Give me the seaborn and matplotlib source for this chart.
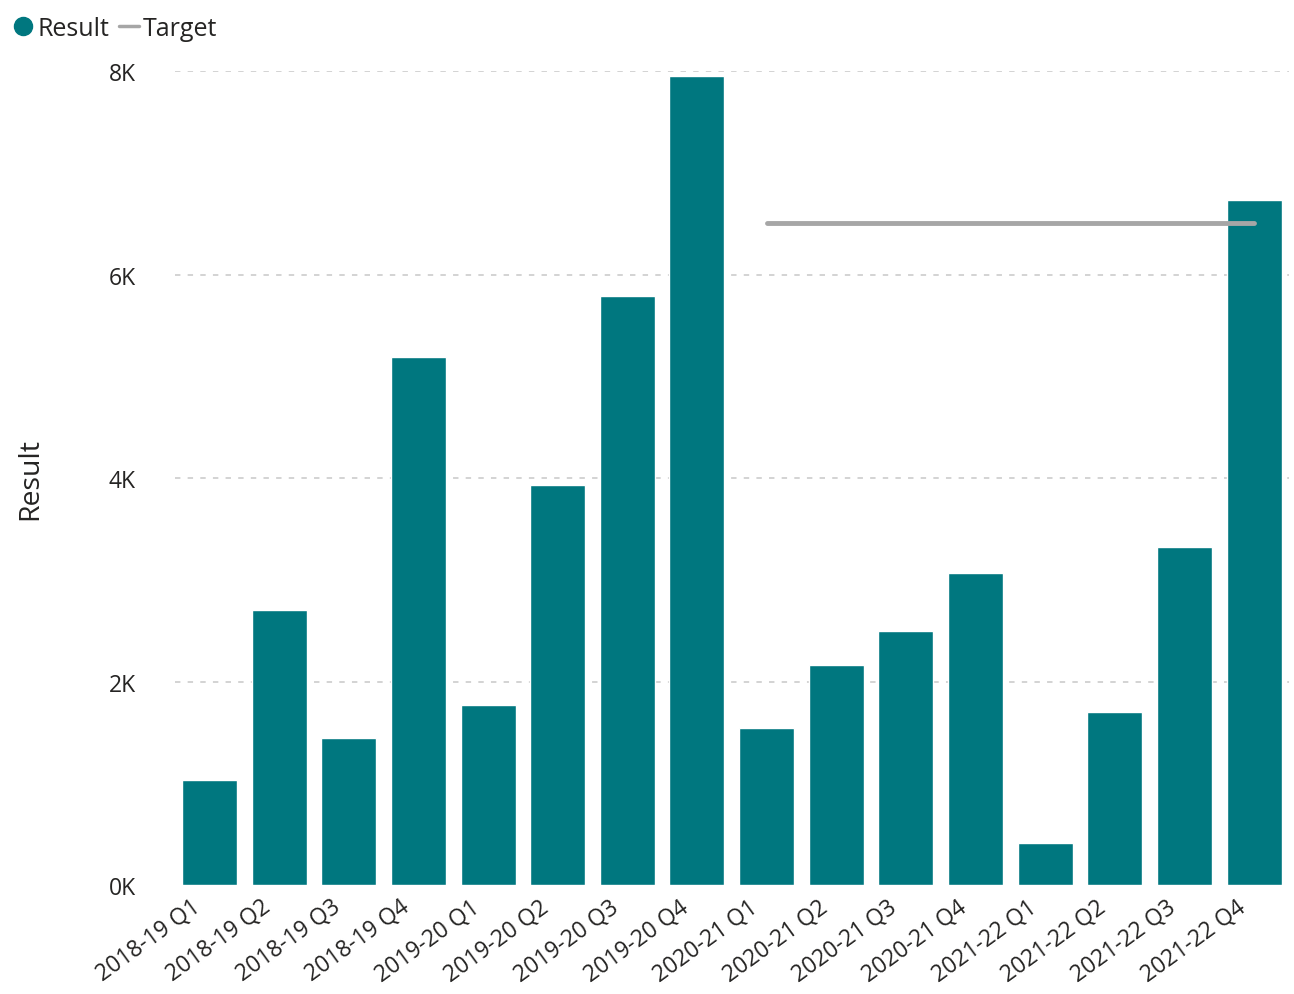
import numpy as np
import pandas as pd
import matplotlib
matplotlib.use("Agg")
import matplotlib.pyplot as plt
import matplotlib.transforms as mtransforms
import seaborn as sns
from matplotlib.lines import Line2D

categories = ["2018-19 Q1", "2018-19 Q2", "2018-19 Q3", "2018-19 Q4",
              "2019-20 Q1", "2019-20 Q2", "2019-20 Q3", "2019-20 Q4",
              "2020-21 Q1", "2020-21 Q2", "2020-21 Q3", "2020-21 Q4",
              "2021-22 Q1", "2021-22 Q2", "2021-22 Q3", "2021-22 Q4"]
result = [1030, 2700, 1445, 5190, 1770, 3930, 5790, 7950,
          1540, 2160, 2500, 3070, 410, 1700, 3320, 6730]
target = [np.nan] * 8 + [6510] * 8
yticks = [0, 2000, 4000, 6000, 8000]
ytick_labels = ["0K", "2K", "4K", "6K", "8K"]

sns.set_style("white")
plt.rcParams['font.family'] = ['Open Sans', 'DejaVu Sans']

BAR = "#00777F"
TGT = "#A6A6A6"
TXT = "#252423"

df = pd.DataFrame({"Quarter": categories, "Result": result})

fig = plt.figure(figsize=(12.94, 9.95), dpi=100)
ax = fig.add_axes([0.135, 0.1095, 0.861, 0.818])

sns.barplot(data=df, x="Quarter", y="Result", color=BAR, saturation=1,
            width=0.79, ax=ax, zorder=2)
ax.plot(np.arange(len(categories)), target, color=TGT, lw=3.5,
        solid_capstyle="round", zorder=3)

ax.set_xlim(-0.5, len(categories) - 0.5)
ax.set_ylim(0, 8000)
ax.set_yticks(yticks)
ax.set_yticklabels(ytick_labels, fontsize=16.5, color=TXT)
ax.set_xticks(np.arange(len(categories)))
ax.set_xticklabels([])
offset = mtransforms.ScaledTranslation(-13 / 72, -7 / 72, fig.dpi_scale_trans)
trans = ax.get_xaxis_transform() + offset
for i, c in enumerate(categories):
    ax.text(i, 0, c, transform=trans, rotation=36, ha="right", va="top",
            rotation_mode="anchor", fontsize=16.5, color=TXT, clip_on=False)
ax.tick_params(axis="both", length=0)
ax.tick_params(axis="y", pad=28)
ax.set_xlabel("")
ax.set_ylabel("Result", fontsize=20.5, color=TXT, labelpad=0)
ax.yaxis.set_label_coords(-0.117, 0.5)

for y in yticks[1:]:
    ax.axhline(y, color="#D0D0D0", lw=1.3, ls=(0, (3, 4)), zorder=1)
for s in ax.spines.values():
    s.set_visible(False)

handles = [Line2D([], [], marker="o", ls="none", color=BAR, markersize=13),
           Line2D([], [], color=TGT, lw=2.5)]
fig.legend(handles, ["Result", "Target"], loc="upper left",
           bbox_to_anchor=(-0.007, 1.006), ncol=2, frameon=False, fontsize=18,
           handlelength=0.8, handletextpad=0.15, columnspacing=0.4,
           labelcolor=TXT)

fig.savefig("out.png", dpi=100)
